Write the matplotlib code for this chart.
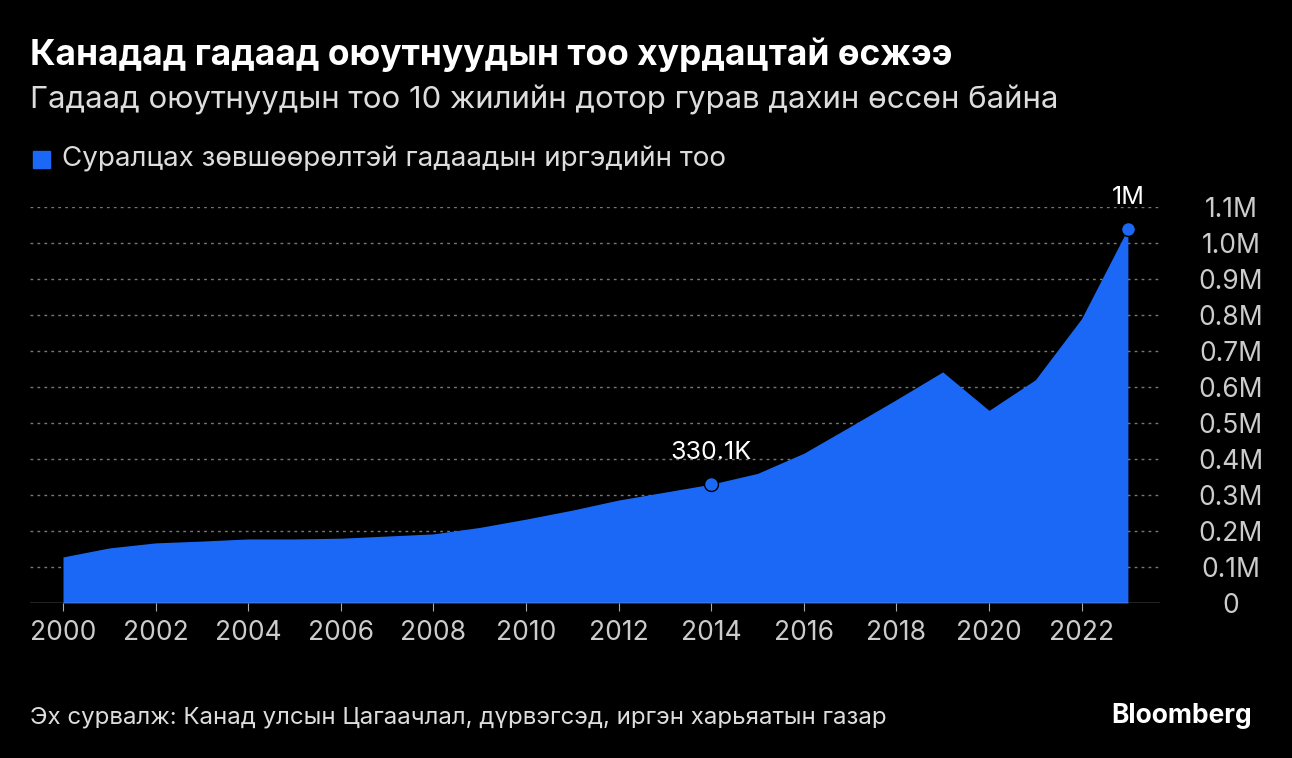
import matplotlib
matplotlib.use("Agg")
import matplotlib.pyplot as plt

years = list(range(2000, 2024))
values = [0.128, 0.153, 0.167, 0.172, 0.178, 0.178, 0.180, 0.186, 0.192, 0.210,
          0.233, 0.258, 0.286, 0.308, 0.3301, 0.360, 0.416, 0.490, 0.565, 0.642,
          0.535, 0.620, 0.790, 1.040]
yticks = [0, 0.1, 0.2, 0.3, 0.4, 0.5, 0.6, 0.7, 0.8, 0.9, 1.0, 1.1]
ylabels = ["0", "0.1M", "0.2M", "0.3M", "0.4M", "0.5M", "0.6M", "0.7M", "0.8M", "0.9M", "1.0M", "1.1M"]
xticks = list(range(2000, 2023, 2))

plt.rcParams['font.family'] = ['Inter', 'DejaVu Sans']
blue = '#1b68f7'
fig = plt.figure(figsize=(12.92, 7.58), dpi=100, facecolor='black')
ax = fig.add_axes([30/1292, 1-603/758, 1130/1292, (603-207)/758])
ax.set_facecolor('black')
ax.fill_between(years, values, 0, color=blue, lw=0)
ax.set_xlim(2000 - 33/46.3, 2000 + (1160-63)/46.3)
ax.set_ylim(0, 1.1)
for t in yticks[1:]:
    ax.axhline(t, color='#777777', ls=(0, (2, 3)), lw=1, zorder=0)
ax.axhline(0, color='#aaaaaa', lw=1)
for s in ax.spines.values():
    s.set_visible(False)
ax.yaxis.tick_right()
ax.set_yticks(yticks)
ax.set_yticklabels(ylabels)
ax.set_xticks(xticks)
ax.tick_params(colors='#cccccc', labelsize=19, length=0)
ax.tick_params(axis='x', length=6, color='#aaaaaa', pad=6)
ax.tick_params(axis='y', pad=51)
for yl in ax.get_yticklabels():
    yl.set_ha('center')
for i, lab in [(14, "330.1K"), (23, "1M")]:
    ax.plot(years[i], values[i], 'o', color=blue, ms=10, mec='black', mew=1, clip_on=False, zorder=5)
    ax.annotate(lab, (years[i], values[i]), xytext=(0, 18), textcoords='offset points',
                ha='center', color='white', fontsize=18, annotation_clip=False)

fig.text(30/1292, 1-55/758, "Канадад гадаад оюутнуудын тоо хурдацтай өсжээ", color='white',
         fontsize=25.5, fontweight='bold', va='center')
fig.text(30/1292, 1-100/758, "Гадаад оюутнуудын тоо 10 жилийн дотор гурав дахин өссөн байна",
         color='#dddddd', fontsize=22.4, va='center')
fig.patches.append(plt.Rectangle((33/1292, 1-168/758), 17/1292, 17/758, color=blue,
                                 transform=fig.transFigure, figure=fig))
fig.text(62/1292, 1-160/758, "Суралцах зөвшөөрөлтэй гадаадын иргэдийн тоо", color='#dddddd',
         fontsize=20, va='center')
fig.text(30/1292, 1-718/758, "Эх сурвалж: Канад улсын Цагаачлал, дүрвэгсэд, иргэн харьяатын газар",
         color='#dddddd', fontsize=17.3, va='center')
fig.text(1252/1292, 1-716/758, "Bloomberg", color='white', fontsize=19, fontweight='bold',
         ha='right', va='center')
fig.savefig('out.png', dpi=100, facecolor='black')
